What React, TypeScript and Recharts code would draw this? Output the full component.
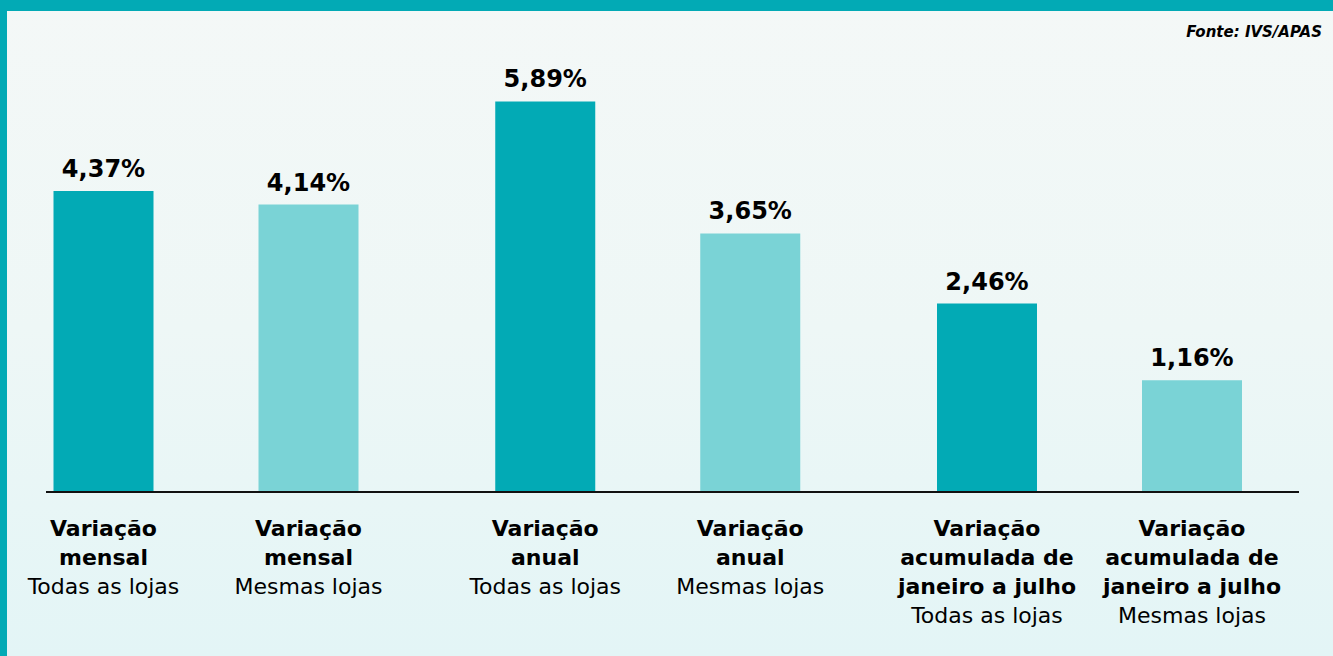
import React from "react";
import { BarChart, Bar, XAxis, YAxis, LabelList } from "recharts";

// ---- data ----
const GROUP_LINES: string[][] = [
  ["Variação", "mensal"],
  ["Variação", "anual"],
  ["Variação", "acumulada de", "janeiro a julho"],
];
const TODAS: number[] = [4.37, 5.89, 2.46];
const MESMAS: number[] = [4.14, 3.65, 1.16];
const SERIES_LABELS: string[] = ["Todas as lojas", "Mesmas lojas"];
const SOURCE = "Fonte: IVS/APAS";

// axis range (the original infographic does not start its bars at zero)
const AXIS_MIN = -0.736;
const AXIS_MAX = 6.592;

const DARK = "#02aab5";
const LIGHT = "#7ad3d6";
const FONT = "'DejaVu Sans', 'Liberation Sans', sans-serif";

const data = GROUP_LINES.map((lines, i) => ({
  name: lines.join(" "),
  lines,
  todas: TODAS[i],
  mesmas: MESMAS[i],
}));

const fmt = (v: any) => Number(v).toFixed(2).replace(".", ",") + "%";

const makeCategoryLabel = (sub: string) => (props: any) => {
  const { x, y, width, height, index } = props;
  const cx = Number(x) + Number(width) / 2;
  const bottom = Number(y) + Number(height);
  const lines = GROUP_LINES[index] || [];
  const first = bottom + 43.5;
  return (
    <text x={cx} y={first} textAnchor="middle" fontFamily={FONT} fontSize={22} fill="#000">
      {lines.map((l, i) => (
        <tspan key={i} x={cx} y={first + i * 29} fontWeight="bold">
          {l}
        </tspan>
      ))}
      <tspan x={cx} y={first + lines.length * 29} fontWeight="normal">
        {sub}
      </tspan>
    </text>
  );
};

export default function App() {
  return (
    <div
      style={{
        position: "absolute",
        left: 0,
        top: 0,
        width: 1333,
        height: 656,
        overflow: "hidden",
        background: "linear-gradient(to bottom, #f4f8f7 0%, #eef7f6 50%, #e3f5f6 100%)",
      }}
    >
      <div style={{ position: "absolute", left: 0, top: 0, width: 1333, height: 11, background: "#02aab5" }} />
      <div style={{ position: "absolute", left: 0, top: 0, width: 7, height: 656, background: "#02aab5" }} />
      <div
        style={{
          position: "absolute",
          right: 11,
          top: 24,
          fontFamily: FONT,
          fontSize: 15,
          fontWeight: "bold",
          fontStyle: "italic",
          color: "#000",
          lineHeight: "17px",
        }}
      >
        {SOURCE}
      </div>
      <div style={{ position: "absolute", left: 0, top: 0 }}>
        <BarChart
          width={1333}
          height={656}
          data={data}
          margin={{ top: 60, right: 22.25, bottom: 164, left: -14.5 }}
          barSize={100}
          barGap={105}
        >
          <XAxis dataKey="name" hide />
          <YAxis hide domain={[AXIS_MIN, AXIS_MAX]} type="number" allowDataOverflow />
          <Bar
            dataKey={(d: any) => [AXIS_MIN, d.todas]}
            fill={DARK}
            isAnimationActive={false}
          >
            <LabelList
              dataKey="todas"
              position="top"
              offset={14}
              formatter={fmt}
              style={{ fontFamily: FONT, fontSize: 24, fontWeight: "bold", fill: "#000" }}
            />
            <LabelList dataKey="todas" content={makeCategoryLabel(SERIES_LABELS[0])} />
          </Bar>
          <Bar
            dataKey={(d: any) => [AXIS_MIN, d.mesmas]}
            fill={LIGHT}
            isAnimationActive={false}
          >
            <LabelList
              dataKey="mesmas"
              position="top"
              offset={14}
              formatter={fmt}
              style={{ fontFamily: FONT, fontSize: 24, fontWeight: "bold", fill: "#000" }}
            />
            <LabelList dataKey="mesmas" content={makeCategoryLabel(SERIES_LABELS[1])} />
          </Bar>
        </BarChart>
      </div>
      <div style={{ position: "absolute", left: 46, top: 491, width: 1253, height: 2, background: "#111" }} />
    </div>
  );
}
